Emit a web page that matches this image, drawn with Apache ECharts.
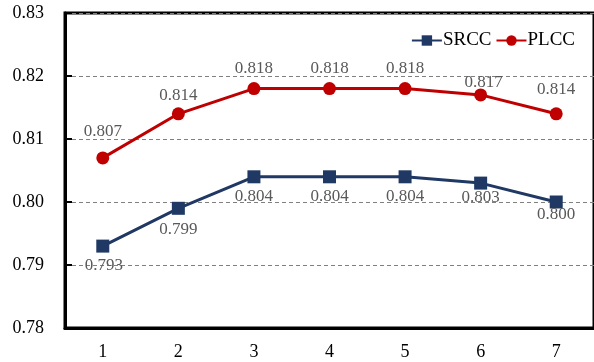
<!DOCTYPE html>
<html>
<head>
<meta charset="utf-8">
<script src="https://cdn.jsdelivr.net/npm/echarts@6/dist/echarts.min.js"></script>
<style>
  html, body { margin: 0; padding: 0; background: #fff; }
  #chart { width: 594px; height: 362px; }
</style>
</head>
<body>
<div id="chart"></div>
<script>
// Category labels along the x axis
const categories = ['1', '2', '3', '4', '5', '6', '7'];
// Correlation scores per setting
const srcc = [0.793, 0.799, 0.804, 0.804, 0.804, 0.803, 0.800];
const plcc = [0.807, 0.814, 0.818, 0.818, 0.818, 0.817, 0.814];
// Value-label nudges (px) from each marker centre
const srccLabelShift = [[1, 19], [0, 21], [0, 20], [0, 20], [0, 20], [0, 14], [0, 13]];
const plccLabelShift = [[0, -26], [0, -18], [0, -20], [0, -20], [0, -20], [3, -12], [0, -24]];

const FONT = "'Liberation Serif', 'Times New Roman', serif";

function buildData(values, shifts) {
  return values.map((v, i) => ({
    value: v,
    label: { position: 'inside', offset: shifts[i] }
  }));
}

const chart = echarts.init(document.getElementById('chart'), null, { renderer: 'canvas' });
chart.setOption({
  animation: false,
  backgroundColor: '#fff',
  grid: {
    left: 65, right: -2, top: 13, bottom: 34,
    show: true, borderColor: '#000', borderWidth: 3, backgroundColor: 'transparent'
  },
  legend: {
    right: 14, top: 26,
    itemWidth: 30, itemHeight: 13, itemGap: 4,
    textStyle: { fontFamily: FONT, fontSize: 19, color: '#000', padding: [0, 0, 0, -4] },
    data: ['SRCC', 'PLCC']
  },
  xAxis: {
    type: 'category',
    data: categories,
    boundaryGap: true,
    axisLine: { lineStyle: { color: '#000', width: 3 } },
    axisTick: { show: false },
    axisLabel: { fontFamily: FONT, fontSize: 18, color: '#000', margin: 15 }
  },
  yAxis: {
    type: 'value',
    min: 0.78, max: 0.83, interval: 0.01,
    axisLine: { show: true, lineStyle: { color: '#000', width: 3 } },
    axisTick: { show: true, inside: true, length: 7, lineStyle: { color: '#000', width: 2 } },
    axisLabel: {
      fontFamily: FONT, fontSize: 18, color: '#000', margin: 21,
      formatter: v => v.toFixed(2)
    },
    splitLine: { show: true, lineStyle: { color: '#808080', width: 1, type: [4, 3] } }
  },
  series: [
    {
      name: 'SRCC',
      type: 'line',
      data: buildData(srcc, srccLabelShift),
      symbol: 'rect', symbolSize: 13,
      itemStyle: { color: '#1F3864' },
      lineStyle: { color: '#1F3864', width: 3 },
      label: { show: true, fontFamily: FONT, fontSize: 17, color: '#595959',
               formatter: p => p.value.toFixed(3) }
    },
    {
      name: 'PLCC',
      type: 'line',
      data: buildData(plcc, plccLabelShift),
      symbol: 'circle', symbolSize: 13,
      itemStyle: { color: '#C00000' },
      lineStyle: { color: '#C00000', width: 3 },
      label: { show: true, fontFamily: FONT, fontSize: 17, color: '#595959',
               formatter: p => p.value.toFixed(3) }
    }
  ]
});
</script>
</body>
</html>
